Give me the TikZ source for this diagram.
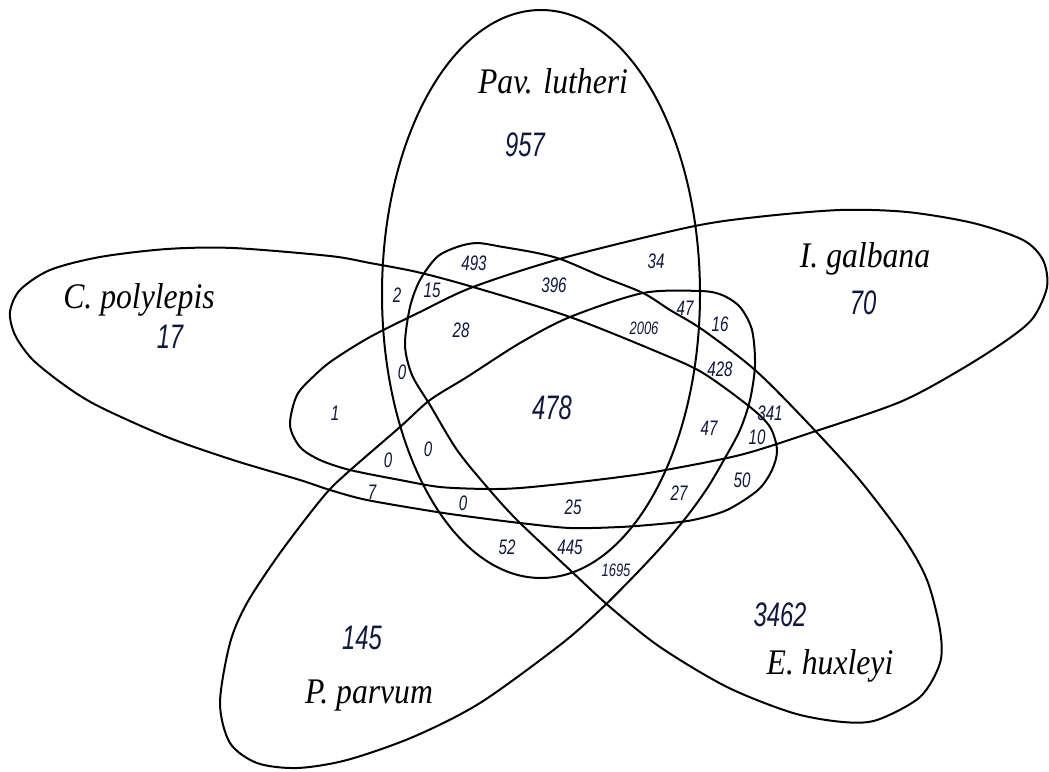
\documentclass[tikz,border=0pt]{standalone}
\usepackage{fontspec}
\setmainfont{Liberation Serif}
\newfontfamily\numfont{Liberation Sans}
\usepackage{graphicx}
\definecolor{numc}{RGB}{16,24,60}
\newcommand{\bign}[1]{\scalebox{0.7}[1]{\fontsize{34}{34}\selectfont\numfont\itshape #1}}
\newcommand{\smn}[1]{\scalebox{0.72}[1]{\fontsize{21}{21}\selectfont\numfont\itshape #1}}
\newcommand{\tinyn}[1]{\scalebox{0.72}[1]{\fontsize{18}{18}\selectfont\numfont\itshape #1}}
\newcommand{\spname}[1]{\scalebox{0.88}[1]{\fontsize{36}{36}\selectfont\itshape #1}}
\begin{document}
\begin{tikzpicture}[x=1pt,y=-1pt,
  setline/.style={line width=2pt, black},
  num/.style={text=numc, inner sep=0pt},
  lab/.style={inner sep=0pt, anchor=base}]
\useasboundingbox (0,0) rectangle (1049,771);
\fill[white] (0,0) rectangle (1049,771);
% Pav. lutheri
\draw[setline] (541,294) ellipse [x radius=159, y radius=284];
% C. polylepis
\draw[setline] plot[smooth cycle] coordinates {(10,312) (20,290) (50,270) (100,257) (167,249) (233,248) (330,256) (370,263) (417,272) (473,287) (570,317) (660,353) (703,373) (750,407) (770,427) (777,450) (772,470) (758,490) (727,510) (693,520) (660,524) (620,527) (570,528) (520,523) (480,518) (437,512) (367,500) (330,490) (300,480) (233,460) (167,437) (100,407) (67,387) (33,360) (15,335)};
% I. galbana
\draw[setline] plot[smooth cycle] coordinates {(290,425) (297,395) (315,375) (333,360) (370,337) (420,312) (473,287) (563,258) (690,227) (757,217) (840,210) (907,212) (973,223) (1023,240) (1043,260) (1047,287) (1033,318) (1007,340) (960,370) (900,402) (810,433) (740,455) (660,471) (620,477) (570,483) (520,488) (487,489) (440,487) (400,480) (350,470) (320,460) (300,447)};
% P. parvum
\draw[setline] plot[smooth cycle] coordinates {(220,703) (230,743) (257,763) (297,768) (347,760) (413,737) (480,703) (560,645) (600,610) (635,575) (663,545) (688,515) (708,487) (725,458) (740,430) (750,400) (755,365) (752,330) (740,307) (722,295) (700,291) (643,293) (570,317) (520,343) (467,377) (430,400) (400,427) (347,473) (323,497) (280,553) (247,603) (230,643)};
% E. huxleyi
\draw[setline] plot[smooth cycle] coordinates {(405,345) (410,307) (420,280) (437,257) (457,247) (477,243) (503,247) (537,253) (563,260) (603,277) (643,293) (670,310) (703,330) (755,370) (805,420) (858,478) (903,537) (927,580) (940,630) (940,663) (920,697) (877,720) (843,722) (793,713) (727,687) (660,647) (610,607) (570,570) (517,520) (487,487) (457,450) (430,405) (412,375)};
% species labels
\node[lab] (lpav) at (553,93) {\spname{Pav. lutheri}};
\node[lab] (lcpo) at (139,308) {\spname{C. polylepis}};
\node[lab] (lgal) at (865,267) {\spname{I. galbana}};
\node[lab] (lpar) at (369,703) {\spname{P. parvum}};
\node[lab] (lhux) at (830,674) {\spname{E. huxleyi}};
% big numbers
\node[num] (n957) at (525,145) {\bign{957}};
\node[num] (n17) at (170,337) {\bign{17}};
\node[num] (n70) at (863,303) {\bign{70}};
\node[num] (n478) at (552,408) {\bign{478}};
\node[num] (n145) at (362,638) {\bign{145}};
\node[num] (n3462) at (780,615) {\bign{3462}};
% small numbers
\node[num] (n493) at (474,263) {\smn{493}};
\node[num] (n2) at (397,295) {\smn{2}};
\node[num] (n15) at (432,290) {\smn{15}};
\node[num] (n396) at (554,285) {\smn{396}};
\node[num] (n34) at (656,261) {\smn{34}};
\node[num] (n28) at (461,330) {\smn{28}};
\node[num] (n2006) at (644,328) {\tinyn{2006}};
\node[num] (n47a) at (685,308) {\smn{47}};
\node[num] (n16) at (720,324) {\smn{16}};
\node[num] (n0a) at (402,372) {\smn{0}};
\node[num] (n1) at (335,413) {\smn{1}};
\node[num] (n0b) at (428,449) {\smn{0}};
\node[num] (n0c) at (388,460) {\smn{0}};
\node[num] (n7) at (372,492) {\smn{7}};
\node[num] (n0d) at (463,503) {\smn{0}};
\node[num] (n25) at (573,507) {\smn{25}};
\node[num] (n52) at (507,547) {\smn{52}};
\node[num] (n445) at (570,547) {\smn{445}};
\node[num] (n1695) at (616,570) {\tinyn{1695}};
\node[num] (n428) at (720,369) {\smn{428}};
\node[num] (n341) at (770,413) {\smn{341}};
\node[num] (n47b) at (709,428) {\smn{47}};
\node[num] (n10) at (757,437) {\smn{10}};
\node[num] (n50) at (742,480) {\smn{50}};
\node[num] (n27) at (679,493) {\smn{27}};
\end{tikzpicture}
\end{document}
